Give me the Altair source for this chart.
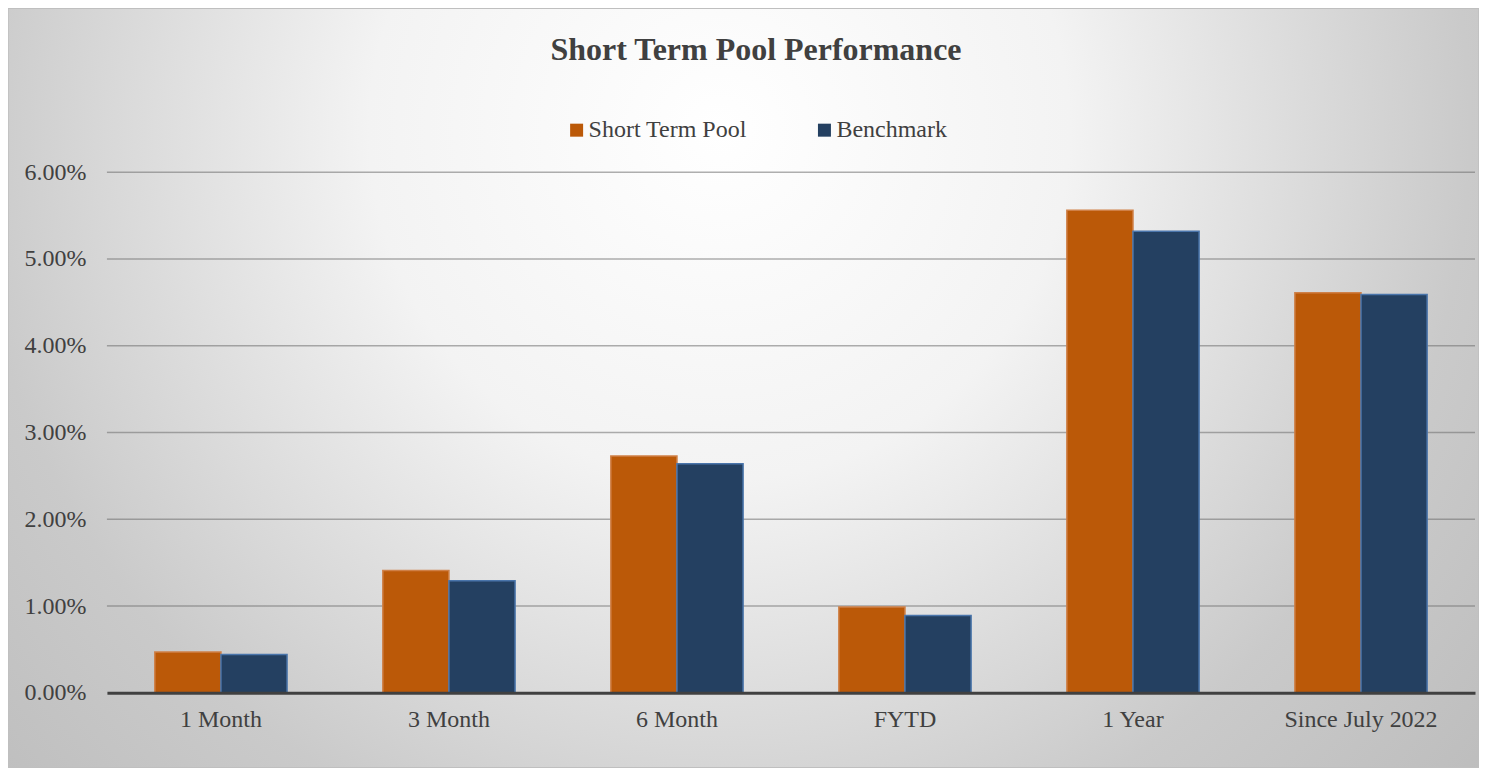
import altair as alt
import pandas as pd

categories = ["1 Month", "3 Month", "6 Month", "FYTD", "1 Year", "Since July 2022"]
series_names = ["Short Term Pool", "Benchmark"]
pool = [0.0047, 0.0141, 0.0273, 0.0099, 0.0556, 0.0461]
bench = [0.0044, 0.0129, 0.0264, 0.0089, 0.0532, 0.0459]
y_ticks = [0.0, 0.01, 0.02, 0.03, 0.04, 0.05, 0.06]

fill_colors = ["#BB5908", "#244061"]
stroke_colors = ["#CF8047", "#4A75AB"]

rows = []
for c, p, b in zip(categories, pool, bench):
    rows.append({"category": c, "series": series_names[0], "value": p})
    rows.append({"category": c, "series": series_names[1], "value": b})
df = pd.DataFrame(rows)
grid_df = pd.DataFrame({"tick": y_ticks[1:]})

W, H = 1369, 521
PL, PT, PR, PB = 99, 164, 4, 75
FONT = "Liberation Serif"
TXT = "#404040"

y_scale = alt.Scale(domain=[0, 0.06], nice=False, zero=True)
y_axis = alt.Axis(values=y_ticks, format=".2%", title=None, grid=False, ticks=False,
                  domain=False, labelFont=FONT, labelFontSize=24, labelColor=TXT,
                  labelPadding=21, zindex=1)

bg = alt.Chart(alt.Data(values=[{"a": 1}])).mark_rect(
    fill={
        "gradient": "radial",
        "x1": 0.4837, "y1": 0.3247, "r1": 0,
        "x2": 0.4837, "y2": 0.3247, "r2": 0.68,
        "stops": [
            {"offset": 0.0, "color": "#ffffff"},
            {"offset": 0.35, "color": "#f3f3f3"},
            {"offset": 0.75, "color": "#cacaca"},
            {"offset": 1.0, "color": "#bdbdbd"},
        ],
    },
    stroke="#bfbfbf",
    strokeWidth=1.5,
).encode(
    x=alt.value(-PL), x2=alt.value(W + PR),
    y=alt.value(-PT), y2=alt.value(H + PB),
)

grid = alt.Chart(grid_df).mark_rule(color="#6e6e6e", opacity=0.55, strokeWidth=1.5).encode(
    y=alt.Y("tick:Q", scale=y_scale, axis=y_axis),
    x=alt.value(0), x2=alt.value(W),
)

bars = alt.Chart(df).mark_bar(strokeWidth=1.5).encode(
    x=alt.X("category:N", sort=categories,
            scale=alt.Scale(paddingInner=0.42, paddingOuter=0.21),
            axis=alt.Axis(title=None, labelAngle=0, ticks=False, domain=True,
                          domainColor="#404040", domainWidth=3, grid=False,
                          labelFont=FONT, labelFontSize=24, labelColor=TXT,
                          labelPadding=15, zindex=1)),
    xOffset=alt.XOffset("series:N", sort=series_names),
    y=alt.Y("value:Q", scale=y_scale, axis=y_axis),
    color=alt.Color("series:N", sort=series_names,
                    scale=alt.Scale(domain=series_names, range=fill_colors),
                    legend=alt.Legend(title=None, orient="none", legendX=458, legendY=-54,
                                      direction="horizontal", symbolType="square",
                                      symbolSize=169, symbolStrokeWidth=0,
                                      labelFont=FONT, labelFontSize=24, labelColor=TXT,
                                      labelOffset=0, columnPadding=65, padding=0)),
    stroke=alt.Stroke("series:N", sort=series_names,
                      scale=alt.Scale(domain=series_names, range=stroke_colors),
                      legend=None),
)

chart = alt.layer(bg, grid, bars).properties(
    width=W, height=H,
    autosize=alt.AutoSizeParams(type="none"),
    padding={"left": PL, "top": PT, "right": PR, "bottom": PB},
    title=alt.TitleParams("Short Term Pool Performance", font=FONT, fontSize=32,
                          fontWeight="bold", color=TXT, anchor="middle",
                          baseline="alphabetic", offset=-85, dx=-35),
).configure_view(stroke=None).configure(background="#ffffff").configure_legend(
    labelFont=FONT, labelFontSize=24, labelColor=TXT
)

chart.save("out.html", embed_options={"renderer": "svg", "actions": False})
